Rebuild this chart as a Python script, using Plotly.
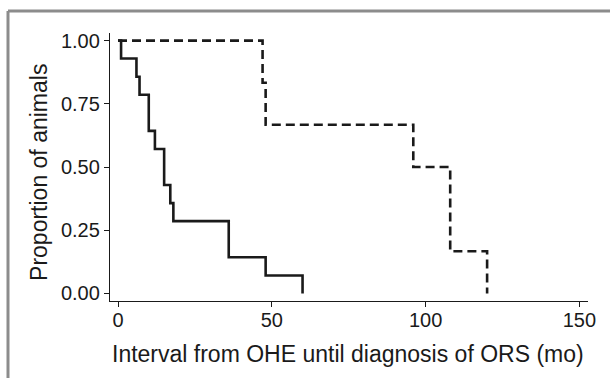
import plotly.graph_objects as go

# Group 1 (solid): event times (months) and survival proportion
solid_time = [0, 1, 6, 7, 10, 12, 15, 17, 18, 36, 48, 60]
solid_prop = [1.0, 0.929, 0.857, 0.786, 0.643, 0.571, 0.429, 0.357, 0.286, 0.143, 0.071, 0.0]

# Group 2 (dashed)
dashed_time = [0, 47, 48, 96, 108, 120]
dashed_prop = [1.0, 0.833, 0.667, 0.5, 0.167, 0.0]

x_ticks = [0, 50, 100, 150]
y_ticks = [0, 0.25, 0.5, 0.75, 1.0]

x_title = "Interval from OHE until diagnosis of ORS (mo)"
y_title = "Proportion of animals"

FONT = "Liberation Sans, Arial, Helvetica, sans-serif"
INK = "#1a1a1a"

fig = go.Figure()
fig.add_trace(go.Scatter(
    x=solid_time, y=solid_prop, mode="lines", line_shape="hv",
    line=dict(color=INK, width=2.6), showlegend=False))
fig.add_trace(go.Scatter(
    x=dashed_time, y=dashed_prop, mode="lines", line_shape="hv",
    line=dict(color=INK, width=2.6, dash="9px,5px"), showlegend=False))

# outer gray frame (left and top only)
frame = dict(type="line", xref="paper", yref="paper",
             line=dict(color="#8c8c8c", width=3), layer="above")
fig.add_shape(x0=-0.2134, x1=-0.2134, y0=-0.30, y1=1.0821, **frame)
fig.add_shape(x0=-0.2134, x1=1.06, y0=1.0821, y1=1.0821, **frame)

# axis titles
fig.add_annotation(text=x_title, xref="paper", yref="paper", x=0.498, y=-0.196,
                   xanchor="center", yanchor="middle", showarrow=False,
                   font=dict(size=23, family=FONT, color=INK))
fig.add_annotation(text=y_title, xref="paper", yref="paper", x=-0.150, y=0.479,
                   xanchor="center", yanchor="middle", showarrow=False, textangle=-90,
                   font=dict(size=23, family=FONT, color=INK))

fig.update_layout(
    width=610, height=378,
    margin=dict(l=110, r=22, t=33, b=77),
    paper_bgcolor="white", plot_bgcolor="white",
    font=dict(family=FONT, color=INK),
)
fig.update_xaxes(
    range=[-2.6, 152.8], tickvals=x_ticks, showgrid=False, zeroline=False,
    showline=True, linecolor=INK, linewidth=1.3,
    ticks="outside", ticklen=5, tickwidth=1.3, tickcolor=INK,
    ticklabelstandoff=-4,
    tickfont=dict(size=20, family=FONT, color=INK),
)
fig.update_yaxes(
    range=[-0.03, 1.03], tickvals=y_ticks, tickformat=".2f", showgrid=False, zeroline=False,
    showline=True, linecolor=INK, linewidth=1.3,
    ticks="outside", ticklen=5, tickwidth=1.3, tickcolor=INK,
    tickfont=dict(size=20, family=FONT, color=INK),
)

fig.write_html("out.html", config={"displayModeBar": False},
               post_script="document.body.style.margin='0';document.body.style.overflow='hidden';")
